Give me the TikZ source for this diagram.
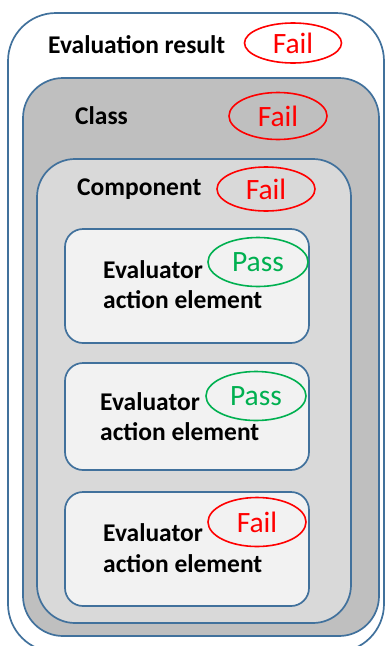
\documentclass[tikz,border=0pt]{standalone}
\usepackage{fontspec}
\setmainfont{Carlito}
\usetikzlibrary{shapes.geometric}
\definecolor{frameblue}{HTML}{41719C}
\definecolor{classgray}{HTML}{BFBFBF}
\definecolor{compgray}{HTML}{D9D9D9}
\definecolor{elemgray}{HTML}{F2F2F2}
\definecolor{failred}{HTML}{FF0000}
\definecolor{passgreen}{HTML}{00B050}
\tikzset{
  x=1pt, y=-1pt,
  frame/.style={draw=frameblue, line width=1.7pt},
  label/.style={anchor=base west, inner sep=0pt, font=\bfseries\fontsize{25.5}{30}\selectfont},
  verdict/.style={ellipse, draw, line width=1.6pt, fill=none, inner sep=0pt,
    font=\fontsize{29.5}{32}\selectfont},
  fail/.style={verdict, draw=failred, text=failred},
  pass/.style={verdict, draw=passgreen, text=passgreen}
}
\begin{document}
\begin{tikzpicture}
\useasboundingbox (0,0) rectangle (386,646);
\clip (0,0) rectangle (386,646);

% nested containers
\draw[frame, fill=white, rounded corners=48pt] (8,13) rectangle (384,652);
\draw[frame, fill=classgray, rounded corners=40pt] (23,78) rectangle (379,636);
\draw[frame, fill=compgray, rounded corners=38pt] (37,159) rectangle (351,623);

% evaluator action elements
\draw[frame, fill=elemgray, rounded corners=18pt] (65,229) rectangle (309,343);
\draw[frame, fill=elemgray, rounded corners=18pt] (65,363) rectangle (309,470);
\draw[frame, fill=elemgray, rounded corners=18pt] (65,492) rectangle (309,606);

% level labels
\node[label] (result) at (48,53) {Evaluation result};
\node[label] (class) at (75,124) {Class};
\node[label] (comp) at (77,195) {Component};

% element labels, one node per line
\node[label] (e1a) at (103,278) {Evaluator};
\node[label] (e1b) at (103,308) {action element};
\node[label] (e2a) at (100,410) {Evaluator};
\node[label] (e2b) at (100,440) {action element};
\node[label] (e3a) at (103,541) {Evaluator};
\node[label] (e3b) at (103,572) {action element};

% verdicts
\node[fail, minimum width=97pt, minimum height=40pt] (v0) at (293,43) {Fail};
\node[fail, minimum width=98pt, minimum height=47pt] (v1) at (278,116) {Fail};
\node[fail, minimum width=98pt, minimum height=44pt] (v2) at (266,189) {Fail};
\node[pass, minimum width=100pt, minimum height=49pt] (v3) at (258,262) {Pass};
\node[pass, minimum width=100pt, minimum height=49pt] (v4) at (256,396) {Pass};
\node[fail, minimum width=98pt, minimum height=49pt] (v5) at (257,522) {Fail};
\end{tikzpicture}
\end{document}
